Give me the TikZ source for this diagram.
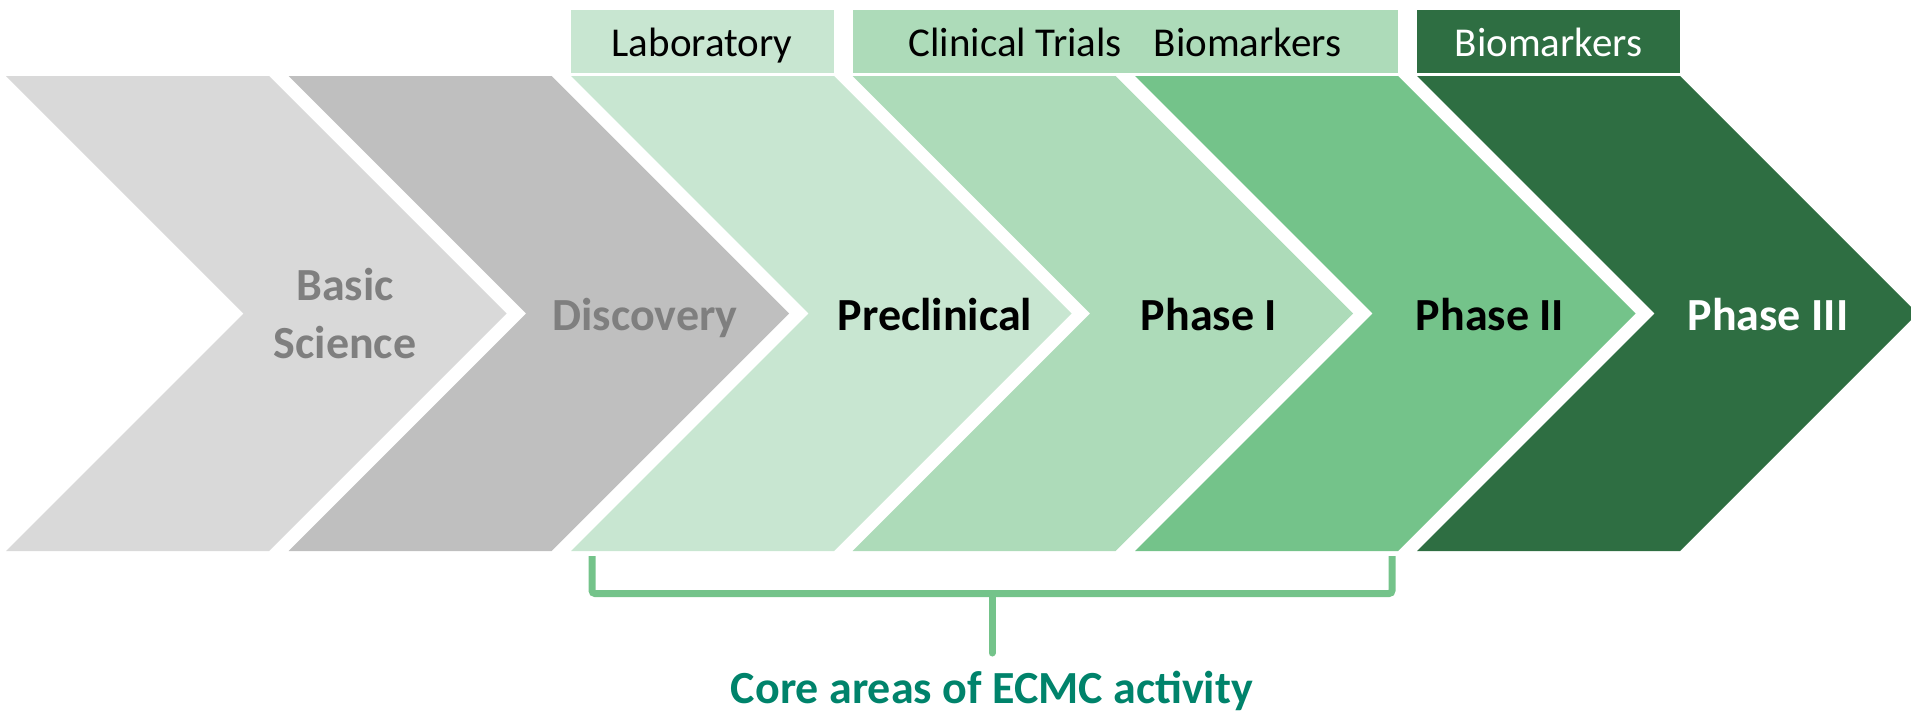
\documentclass[tikz,border=0pt]{standalone}
\usepackage{fontspec}
\setmainfont{Carlito}
\usetikzlibrary{positioning}
\definecolor{greyA}{HTML}{D9D9D9}
\definecolor{greyB}{HTML}{BFBFBF}
\definecolor{greenA}{HTML}{C8E6D1}
\definecolor{greenB}{HTML}{ADDBB9}
\definecolor{greenC}{HTML}{74C38A}
\definecolor{greenD}{HTML}{2E6E42}
\definecolor{greytext}{HTML}{7F7F7F}
\definecolor{ecmc}{HTML}{00836B}

\begin{document}
\begin{tikzpicture}[x=1pt, y=-1pt,
		phase/.style={font=\fontsize{46}{58}\selectfont\bfseries, anchor=base, align=center, inner sep=0pt},
		tag/.style={font=\fontsize{41}{50}\selectfont, anchor=base, inner sep=0pt},
		bracket/.style={draw=greenC, line width=7pt, rounded corners=3pt},
	]
		\useasboundingbox (0,0) rectangle (1911,712);

		\fill[greyA] (6,76) -- ++(263,0) -- ++(237.5,237.5) -- ++(-237.5,237.5) -- ++(-263,0) -- ++(237.5,-237.5) -- cycle;
		\fill[greyB] (288.5,76) -- ++(263,0) -- ++(237.5,237.5) -- ++(-237.5,237.5) -- ++(-263,0) -- ++(237.5,-237.5) -- cycle;
		\fill[greenA] (571,76) -- ++(263,0) -- ++(237.5,237.5) -- ++(-237.5,237.5) -- ++(-263,0) -- ++(237.5,-237.5) -- cycle;
		\fill[greenB] (852.5,76) -- ++(263,0) -- ++(237.5,237.5) -- ++(-237.5,237.5) -- ++(-263,0) -- ++(237.5,-237.5) -- cycle;
		\fill[greenC] (1135,76) -- ++(263,0) -- ++(237.5,237.5) -- ++(-237.5,237.5) -- ++(-263,0) -- ++(237.5,-237.5) -- cycle;
		\fill[greenD] (1417,76) -- ++(263,0) -- ++(237.5,237.5) -- ++(-237.5,237.5) -- ++(-263,0) -- ++(237.5,-237.5) -- cycle;

		\fill[greenA] (571,10) rectangle ++(263,63);
		\fill[greenB] (852.5,10) rectangle ++(545.5,63);
		\fill[greenD] (1417,10) rectangle ++(263,63);

		\node[tag] (lab) at (702,56.7) {Laboratory};
		\node[tag] (trials) at (1125,56.7) {Clinical Trials\hspace{32pt}Biomarkers};
		\node[tag, text=white] (markers) at (1548.5,56.7) {Biomarkers};

		\node[phase, text=greytext] (basic) at (345,358) {Basic\\Science};
		\node[phase, text=greytext] (discovery) at (645,330) {Discovery};
		\node[phase] (preclinical) at (935,330) {Preclinical};
		\node[phase] (phaseone) at (1209,330) {Phase I};
		\node[phase] (phasetwo) at (1490,330) {Phase II};
		\node[phase, text=white] (phasethree) at (1768,330) {Phase III};

		\coordinate (bl) at (592,556);
		\coordinate (br) at (1392,556);
		\coordinate (mid) at (992,593.5);
		\coordinate (tail) at (992,653);
		\draw[bracket] (bl) |- (mid) -| (br);
		\draw[bracket, line cap=round] (mid) -- (tail);
		\node[phase, text=ecmc] (core) at (992,703) {Core areas of ECMC activity};
	\end{tikzpicture}
\end{document}
